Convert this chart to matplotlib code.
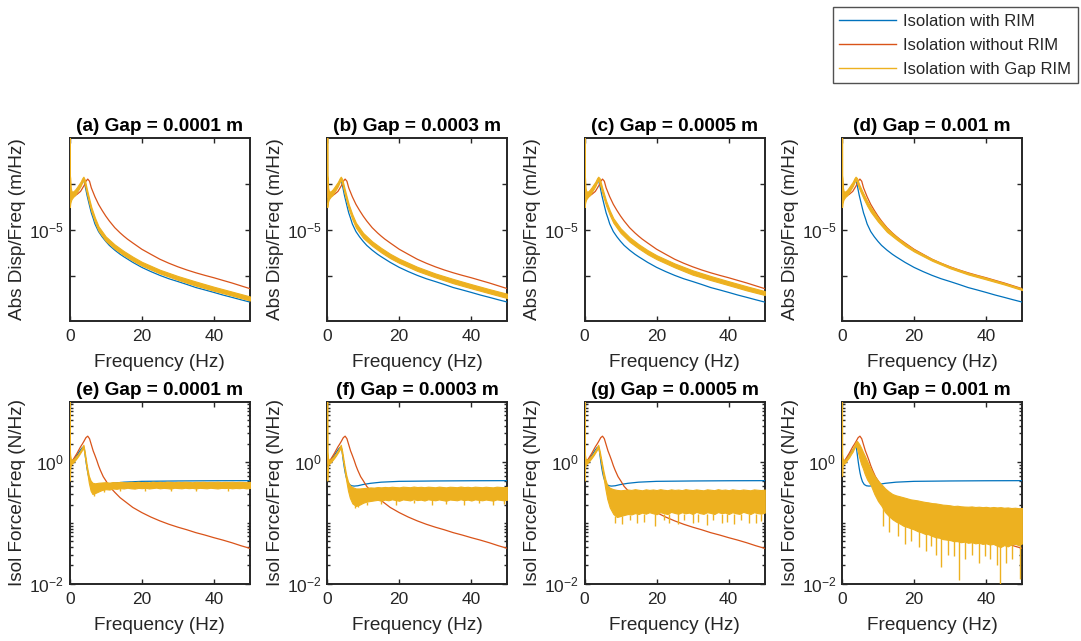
import matplotlib
matplotlib.use("Agg")
import matplotlib.pyplot as plt
from matplotlib.lines import Line2D
from matplotlib.ticker import FixedLocator, FixedFormatter, NullFormatter, NullLocator

plt.rcParams['font.family'] = ['Liberation Sans', 'DejaVu Sans']
plt.rcParams['mathtext.fontset'] = 'custom'
plt.rcParams['mathtext.rm'] = 'Liberation Sans'
plt.rcParams['mathtext.it'] = 'Liberation Sans:italic'
plt.rcParams['mathtext.bf'] = 'Liberation Sans:bold'

C_BLUE = '#0072BD'
C_RED = '#D95319'
C_YEL = '#EDB120'
TXT = '#262626'

legend_labels = ['Isolation with RIM', 'Isolation without RIM', 'Isolation with Gap RIM']
titles_top = ['(a) Gap = 0.0001 m', '(b) Gap = 0.0003 m', '(c) Gap = 0.0005 m', '(d) Gap = 0.001 m']
titles_bot = ['(e) Gap = 0.0001 m', '(f) Gap = 0.0003 m', '(g) Gap = 0.0005 m', '(h) Gap = 0.001 m']
xlabel = 'Frequency (Hz)'
ylabel_top = 'Abs Disp/Freq (m/Hz)'
ylabel_bot = 'Isol Force/Freq (N/Hz)'

# ---------------- displacement / freq (top row) ----------------
f_rim_disp = [0, 0.1, 1, 2, 3, 3.5, 3.8, 4.2, 4.8, 5.5, 6, 6.5, 7, 8, 9, 10, 11, 12.5, 14, 15, 17.5, 20,
              22.5, 25, 27.5, 30, 32.5, 35, 37.5, 40, 42.5, 45, 47.5, 50]
rim_disp = [1e-3, 1.65e-5, 1.7e-5, 1.8e-5, 1.95e-5, 2.08e-5, 2.15e-5, 2.0e-5, 1.7e-5, 1.45e-5, 1.3e-5,
            1.2e-5, 1.1e-5, 9.8e-6, 9.05e-6, 8.45e-6, 7.95e-6, 7.4e-6, 6.95e-6, 6.7e-6, 6.15e-6, 5.7e-6,
            5.35e-6, 5.05e-6, 4.8e-6, 4.6e-6, 4.4e-6, 4.2e-6, 4.05e-6, 3.9e-6, 3.75e-6, 3.62e-6, 3.49e-6,
            3.37e-6]

f_norim_disp = [0, 0.1, 1, 2, 3, 4, 4.5, 5, 5.5, 6, 7, 8, 9, 10, 11, 12.5, 14, 15, 16, 17.5, 20, 22.5, 25,
                27.5, 30, 32.5, 35, 37.5, 40, 42.5, 45, 47.5, 50]
norim_disp = [1e-3, 1.65e-5, 1.67e-5, 1.72e-5, 1.8e-5, 1.97e-5, 2.1e-5, 2.17e-5, 2.1e-5, 1.9e-5, 1.66e-5,
              1.48e-5, 1.35e-5, 1.24e-5, 1.15e-5, 1.04e-5, 9.6e-6, 9.15e-6, 8.75e-6, 8.25e-6, 7.5e-6,
              6.95e-6, 6.45e-6, 6.07e-6, 5.75e-6, 5.48e-6, 5.25e-6, 5.05e-6, 4.87e-6, 4.68e-6, 4.5e-6,
              4.31e-6, 4.13e-6]

f_gap_disp = [0, 0.05, 0.15, 0.3, 0.5, 1, 1.5, 2, 2.5, 3, 3.5, 3.8, 4.2, 4.8, 5.5, 6, 7, 8, 10, 12.5,
              15, 17.5, 20, 25, 30, 35, 40, 45, 50]
gap_disp_lo = [
    [1e-3, 1.42e-5, 1.5e-5, 1.55e-5, 1.6e-5, 1.66e-5, 1.7e-5, 1.78e-5, 1.86e-5, 1.95e-5, 2.07e-5, 2.15e-5,
     2.0e-5, 1.72e-5, 1.47e-5, 1.33e-5, 1.13e-5, 9.9e-6, 8.5e-6, 7.55e-6, 6.85e-6, 6.3e-6, 5.85e-6,
     5.2e-6, 4.72e-6, 4.32e-6, 4.0e-6, 3.72e-6, 3.45e-6],
    [1e-3, 1.42e-5, 1.5e-5, 1.55e-5, 1.6e-5, 1.66e-5, 1.7e-5, 1.78e-5, 1.86e-5, 1.95e-5, 2.07e-5, 2.15e-5,
     2.02e-5, 1.76e-5, 1.52e-5, 1.38e-5, 1.18e-5, 1.04e-5, 8.9e-6, 7.9e-6, 7.15e-6, 6.55e-6, 6.1e-6,
     5.4e-6, 4.9e-6, 4.48e-6, 4.15e-6, 3.85e-6, 3.58e-6],
    [1e-3, 1.42e-5, 1.5e-5, 1.55e-5, 1.6e-5, 1.66e-5, 1.7e-5, 1.78e-5, 1.86e-5, 1.95e-5, 2.07e-5, 2.15e-5,
     2.04e-5, 1.8e-5, 1.58e-5, 1.45e-5, 1.26e-5, 1.12e-5, 9.6e-6, 8.4e-6, 7.6e-6, 6.95e-6, 6.45e-6,
     5.7e-6, 5.1e-6, 4.7e-6, 4.35e-6, 4.02e-6, 3.75e-6],
    [1e-3, 1.42e-5, 1.5e-5, 1.55e-5, 1.6e-5, 1.66e-5, 1.7e-5, 1.78e-5, 1.86e-5, 1.95e-5, 2.07e-5, 2.15e-5,
     2.06e-5, 1.88e-5, 1.72e-5, 1.62e-5, 1.45e-5, 1.32e-5, 1.14e-5, 9.75e-6, 8.75e-6, 7.9e-6, 7.25e-6,
     6.3e-6, 5.62e-6, 5.12e-6, 4.75e-6, 4.4e-6, 4.04e-6],
]
gap_disp_hi = [
    [1e-3, 2.3e-5, 2.2e-5, 1.9e-5, 1.8e-5, 1.8e-5, 1.85e-5, 1.92e-5, 2.0e-5, 2.08e-5, 2.2e-5, 2.25e-5,
     2.15e-5, 1.85e-5, 1.58e-5, 1.42e-5, 1.21e-5, 1.06e-5, 9.1e-6, 8.05e-6, 7.3e-6, 6.7e-6, 6.2e-6,
     5.5e-6, 5.0e-6, 4.6e-6, 4.25e-6, 3.95e-6, 3.67e-6],
    [1e-3, 2.3e-5, 2.2e-5, 1.9e-5, 1.8e-5, 1.8e-5, 1.85e-5, 1.92e-5, 2.0e-5, 2.08e-5, 2.2e-5, 2.25e-5,
     2.17e-5, 1.9e-5, 1.64e-5, 1.48e-5, 1.27e-5, 1.12e-5, 9.6e-6, 8.45e-6, 7.65e-6, 7.0e-6, 6.5e-6,
     5.75e-6, 5.2e-6, 4.78e-6, 4.42e-6, 4.1e-6, 3.82e-6],
    [1e-3, 2.3e-5, 2.2e-5, 1.9e-5, 1.8e-5, 1.8e-5, 1.85e-5, 1.92e-5, 2.0e-5, 2.08e-5, 2.2e-5, 2.25e-5,
     2.2e-5, 1.95e-5, 1.71e-5, 1.56e-5, 1.35e-5, 1.2e-5, 1.03e-5, 9.0e-6, 8.1e-6, 7.4e-6, 6.85e-6,
     6.05e-6, 5.45e-6, 5.0e-6, 4.62e-6, 4.28e-6, 3.98e-6],
    [1e-3, 2.3e-5, 2.2e-5, 1.9e-5, 1.8e-5, 1.8e-5, 1.85e-5, 1.92e-5, 2.0e-5, 2.08e-5, 2.2e-5, 2.25e-5,
     2.2e-5, 2.0e-5, 1.84e-5, 1.74e-5, 1.56e-5, 1.42e-5, 1.21e-5, 1.03e-5, 9.1e-6, 8.2e-6, 7.47e-6,
     6.47e-6, 5.76e-6, 5.25e-6, 4.87e-6, 4.5e-6, 4.13e-6],
]

# ---------------- isolation force / freq (bottom row) ----------------
f_rim_force = [0, 0.1, 1, 2, 3, 3.5, 3.9, 4.1, 4.3, 4.55, 4.8, 5.05, 5.3, 5.7, 6.2, 6.8, 7.5, 8.5, 10, 12,
               15, 20, 30, 40, 50]
rim_force = [100, 0.97, 1.08, 1.3, 1.6, 1.75, 1.8, 1.6, 1.3, 1.0, 0.8, 0.66, 0.57, 0.48, 0.43, 0.41, 0.405,
             0.41, 0.43, 0.45, 0.47, 0.485, 0.492, 0.496, 0.498]

f_norim_force = [0, 0.1, 1, 2, 3, 3.5, 4, 4.5, 5, 5.5, 6, 6.5, 7, 7.5, 8, 8.5, 9.3, 10, 11, 12.5, 14, 17.5,
                 20, 22.5, 25, 27.5, 30, 32.5, 35, 37.5, 40, 42.5, 45, 47.5, 50]
norim_force = [100, 0.97, 1.12, 1.4, 1.8, 2.0, 2.25, 2.55, 2.7, 2.45, 1.95, 1.55, 1.3, 1.08, 0.88, 0.74,
               0.58, 0.5, 0.4, 0.32, 0.26, 0.18, 0.148, 0.125, 0.108, 0.095, 0.085, 0.077, 0.069, 0.063,
               0.057, 0.052, 0.047, 0.042, 0.038]

f_gap_force = [0, 0.05, 0.15, 0.3, 0.6, 1, 1.5, 2, 2.5, 3, 3.5, 3.8, 4.2, 4.8, 5.3, 5.8, 6.3, 7,
               8, 9, 10, 11, 12, 13, 14, 15, 16, 17, 18, 19, 20, 21, 22, 23, 24, 25, 26, 27, 28, 29, 30,
               31, 32, 33, 34, 35, 36, 37, 38, 39, 40, 41, 42, 43, 44, 45, 46, 47, 48, 49, 50]
gap_force_lo = [
    [100, 0.5, 0.8, 0.9, 0.95, 1.0, 1.08, 1.18, 1.3, 1.45, 1.62, 1.75, 1.25, 0.72, 0.46, 0.34, 0.30, 0.31,
     0.33, 0.35, 0.36, 0.355, 0.37, 0.365, 0.375, 0.37, 0.38, 0.372, 0.368, 0.378, 0.374, 0.38, 0.37,
     0.376, 0.382, 0.372, 0.378, 0.375, 0.368, 0.38, 0.376, 0.372, 0.38, 0.374, 0.378, 0.37, 0.379,
     0.376, 0.372, 0.38, 0.375, 0.37, 0.378, 0.376, 0.38, 0.372, 0.377, 0.374, 0.38, 0.371, 0.376],
    [100, 0.5, 0.8, 0.9, 0.95, 1.0, 1.08, 1.18, 1.3, 1.45, 1.62, 1.75, 1.3, 0.78, 0.5, 0.34, 0.26, 0.21,
     0.19, 0.2, 0.215, 0.225, 0.23, 0.235, 0.24, 0.232, 0.242, 0.236, 0.245, 0.238, 0.232, 0.244, 0.24,
     0.235, 0.246, 0.238, 0.242, 0.234, 0.245, 0.24, 0.236, 0.244, 0.238, 0.232, 0.243, 0.24, 0.236,
     0.245, 0.238, 0.242, 0.234, 0.244, 0.24, 0.236, 0.243, 0.238, 0.233, 0.244, 0.24, 0.236, 0.242],
    [100, 0.5, 0.8, 0.9, 0.95, 1.0, 1.08, 1.18, 1.3, 1.45, 1.62, 1.75, 1.35, 0.85, 0.55, 0.36, 0.25, 0.18,
     0.14, 0.125, 0.13, 0.135, 0.14, 0.138, 0.145, 0.14, 0.148, 0.142, 0.15, 0.144, 0.139, 0.15, 0.145,
     0.14, 0.152, 0.146, 0.141, 0.15, 0.144, 0.148, 0.14, 0.152, 0.145, 0.141, 0.15, 0.146, 0.14, 0.151,
     0.145, 0.148, 0.14, 0.15, 0.144, 0.141, 0.152, 0.146, 0.14, 0.15, 0.145, 0.142, 0.148],
    [100, 0.6, 0.85, 0.92, 0.95, 1.0, 1.1, 1.2, 1.35, 1.5, 1.75, 1.9, 1.7, 1.2, 0.95, 0.8, 0.65, 0.52,
     0.42, 0.3, 0.23, 0.19, 0.15, 0.13, 0.115, 0.105, 0.098, 0.09, 0.086, 0.082, 0.078, 0.073, 0.07,
     0.066, 0.065, 0.061, 0.058, 0.057, 0.054, 0.053, 0.052, 0.05, 0.05, 0.048, 0.049, 0.047, 0.048,
     0.046, 0.047, 0.045, 0.046, 0.044, 0.045, 0.042, 0.04, 0.043, 0.041, 0.044, 0.045, 0.043, 0.046],
]
gap_force_hi = [
    [100, 1.5, 1.3, 1.15, 1.1, 1.12, 1.2, 1.3, 1.42, 1.58, 1.8, 1.95, 1.45, 0.85, 0.6, 0.5, 0.46, 0.45,
     0.46, 0.465, 0.47, 0.462, 0.472, 0.468, 0.475, 0.47, 0.466, 0.476, 0.472, 0.478, 0.47, 0.474, 0.468,
     0.478, 0.472, 0.476, 0.47, 0.479, 0.474, 0.47, 0.477, 0.472, 0.478, 0.474, 0.469, 0.477, 0.473,
     0.478, 0.471, 0.476, 0.474, 0.479, 0.47, 0.476, 0.473, 0.478, 0.472, 0.477, 0.474, 0.47, 0.476],
    [100, 1.5, 1.3, 1.15, 1.1, 1.12, 1.2, 1.3, 1.42, 1.58, 1.8, 1.95, 1.5, 0.9, 0.62, 0.48, 0.42, 0.39,
     0.37, 0.37, 0.375, 0.38, 0.385, 0.382, 0.39, 0.386, 0.392, 0.388, 0.395, 0.39, 0.386, 0.396, 0.392,
     0.388, 0.398, 0.39, 0.394, 0.388, 0.396, 0.392, 0.387, 0.397, 0.391, 0.386, 0.395, 0.392, 0.388,
     0.398, 0.39, 0.394, 0.387, 0.396, 0.392, 0.388, 0.395, 0.39, 0.386, 0.396, 0.392, 0.388, 0.394],
    [100, 1.5, 1.3, 1.15, 1.1, 1.12, 1.2, 1.3, 1.42, 1.58, 1.8, 1.95, 1.55, 1.0, 0.7, 0.52, 0.42, 0.38,
     0.36, 0.35, 0.345, 0.35, 0.355, 0.35, 0.36, 0.352, 0.345, 0.358, 0.35, 0.356, 0.348, 0.36, 0.352,
     0.346, 0.358, 0.35, 0.355, 0.347, 0.36, 0.352, 0.348, 0.357, 0.35, 0.345, 0.358, 0.352, 0.347,
     0.36, 0.35, 0.355, 0.346, 0.358, 0.351, 0.347, 0.356, 0.35, 0.345, 0.357, 0.352, 0.348, 0.355],
    [100, 1.4, 1.2, 1.1, 1.08, 1.12, 1.22, 1.35, 1.5, 1.7, 1.95, 2.15, 2.25, 2.0, 1.75, 1.5, 1.3, 1.05,
     0.78, 0.6, 0.5, 0.43, 0.37, 0.33, 0.3, 0.285, 0.275, 0.265, 0.255, 0.245, 0.24, 0.235, 0.228, 0.222,
     0.218, 0.212, 0.21, 0.205, 0.2, 0.198, 0.195, 0.19, 0.192, 0.188, 0.186, 0.185, 0.187, 0.183, 0.185,
     0.182, 0.184, 0.18, 0.183, 0.18, 0.182, 0.178, 0.18, 0.176, 0.178, 0.175, 0.176],
]

# downward spikes of the noisy gap-RIM force spectra (panels e-h)
spike_f_e = [6.8, 9.5, 14.0, 21.0, 28.0, 35.0, 44.0]
spike_top_e = [0.32, 0.36, 0.37, 0.37, 0.37, 0.37, 0.37]
spike_bot_e = [0.28, 0.32, 0.335, 0.34, 0.335, 0.34, 0.33]
spike_f_f = [7.6, 8.5, 11.0, 15.0, 19.0, 24.0, 29.0, 33.0, 38.0, 42.0, 46.0, 49.0]
spike_top_f = [0.2, 0.2, 0.225, 0.235, 0.235, 0.235, 0.235, 0.235, 0.235, 0.235, 0.235, 0.235]
spike_bot_f = [0.175, 0.18, 0.2, 0.205, 0.2, 0.21, 0.2, 0.205, 0.2, 0.21, 0.2, 0.205]
spike_f_g = [8.5, 10.5, 12.5, 14.5, 16.5, 19.5, 22.0, 23.5, 26.0, 27.5, 30.0, 31.5, 34.0, 35.5, 38.0,
             39.5, 41.5, 43.5, 45.5, 47.5, 49.0]
spike_top_g = [0.13, 0.13, 0.135, 0.14, 0.14, 0.14, 0.14, 0.14, 0.14, 0.14, 0.14, 0.14, 0.14, 0.14, 0.14,
               0.14, 0.14, 0.14, 0.14, 0.14, 0.14]
spike_bot_g = [0.1, 0.095, 0.11, 0.1, 0.105, 0.09, 0.11, 0.1, 0.095, 0.11, 0.1, 0.105, 0.092, 0.11, 0.1,
               0.105, 0.095, 0.11, 0.1, 0.098, 0.108]
spike_f_h = [11.5, 13.2, 15.6, 17.4, 19.1, 21.3, 23.2, 24.6, 26.1, 27.6, 29.3, 31.0, 32.4, 34.2, 36.1,
             38.0, 39.6, 41.2, 43.0, 43.8, 45.6, 47.3, 49.3]
spike_top_h = [0.2, 0.14, 0.11, 0.095, 0.085, 0.075, 0.068, 0.066, 0.062, 0.058, 0.055, 0.052, 0.05,
               0.049, 0.048, 0.047, 0.046, 0.045, 0.044, 0.044, 0.043, 0.044, 0.046]
spike_bot_h = [0.09, 0.07, 0.06, 0.045, 0.05, 0.04, 0.035, 0.042, 0.03, 0.019, 0.03, 0.028, 0.0114,
               0.025, 0.03, 0.022, 0.028, 0.025, 0.02, 0.0095, 0.022, 0.025, 0.012]

# ---------------- layout ----------------
FW, FH = 1081, 641
fig = plt.figure(figsize=(FW / 100, FH / 100), dpi=100)
lefts = [69.7, 327.1, 584.5, 841.9]
AW = 180.3
rows = [(137.7, 320.5), (401.7, 583.5)]


def style_axes(ax):
    for s in ax.spines.values():
        s.set_linewidth(1.4)
        s.set_color(TXT)
        s.set_zorder(2)
    ax.tick_params(which='both', direction='in', top=True, right=True, colors=TXT,
                   labelsize=12.5, width=1.0)
    ax.tick_params(which='major', length=3.5)
    ax.tick_params(which='minor', length=2.0)
    ax.tick_params(axis='x', pad=6)
    ax.tick_params(axis='y', pad=4)
    ax.set_xlim(0, 50)
    ax.xaxis.set_major_locator(FixedLocator([0, 20, 40]))
    ax.xaxis.set_minor_locator(NullLocator())
    ax.set_xlabel(xlabel, fontsize=13.7, color=TXT)
    ax.xaxis.set_label_coords(0.5, -0.23)
    ax.xaxis.label.set_va('center')


for i in range(4):
    t, b = rows[0]
    ax = fig.add_axes([lefts[i] / FW, 1 - b / FH, AW / FW, (b - t) / FH])
    ax.set_yscale('log')
    ax.plot(f_rim_disp, rim_disp, color=C_BLUE, lw=0.9, zorder=3)
    ax.plot(f_norim_disp, norim_disp, color=C_RED, lw=0.9, zorder=3)
    ax.fill_between(f_gap_disp, gap_disp_lo[i], gap_disp_hi[i], color=C_YEL, lw=0.8, zorder=4)
    ax.set_ylim(2.55e-6, 4.06e-5)
    ax.yaxis.set_major_locator(FixedLocator([5e-6, 1e-5, 2e-5]))
    ax.yaxis.set_major_formatter(FixedFormatter(['', r'$\mathregular{10^{-5}}$', '']))
    ax.yaxis.set_minor_locator(NullLocator())
    ax.yaxis.set_minor_formatter(NullFormatter())
    style_axes(ax)
    ax.set_title(titles_top[i], fontsize=13.7, fontweight='bold', pad=5)
    ax.set_ylabel(ylabel_top, fontsize=13.7, color=TXT)
    ax.yaxis.set_label_coords(-0.287, 0.5)
    ax.yaxis.label.set_va('center')

spikes = [(spike_f_e, spike_bot_e, spike_top_e), (spike_f_f, spike_bot_f, spike_top_f),
          (spike_f_g, spike_bot_g, spike_top_g), (spike_f_h, spike_bot_h, spike_top_h)]
for i in range(4):
    t, b = rows[1]
    ax = fig.add_axes([lefts[i] / FW, 1 - b / FH, AW / FW, (b - t) / FH])
    ax.set_yscale('log')
    ax.plot(f_rim_force, rim_force, color=C_BLUE, lw=0.9, zorder=3)
    ax.plot(f_norim_force, norim_force, color=C_RED, lw=0.9, zorder=3)
    ax.fill_between(f_gap_force, gap_force_lo[i], gap_force_hi[i], color=C_YEL, lw=0.8, zorder=4)
    sf, sb, st = spikes[i]
    ax.vlines(sf, sb, st, color=C_YEL, lw=1.0, zorder=4)
    ax.set_ylim(1e-2, 1e1)
    ax.yaxis.set_major_locator(FixedLocator([1e-2, 1e0]))
    ax.yaxis.set_major_formatter(FixedFormatter([r'$\mathregular{10^{-2}}$', r'$\mathregular{10^{0}}$']))
    minors = [k * 10.0 ** e for e in (-2, -1, 0) for k in range(2, 10)] + [0.1, 10.0]
    ax.yaxis.set_minor_locator(FixedLocator(minors))
    ax.yaxis.set_minor_formatter(NullFormatter())
    style_axes(ax)
    ax.set_title(titles_bot[i], fontsize=13.7, fontweight='bold', pad=5)
    ax.set_ylabel(ylabel_bot, fontsize=13.7, color=TXT)
    ax.yaxis.set_label_coords(-0.287, 0.5)
    ax.yaxis.label.set_va('center')

handles = [Line2D([], [], color=C_BLUE, lw=1.0),
           Line2D([], [], color=C_RED, lw=1.0),
           Line2D([], [], color=C_YEL, lw=1.0)]
leg = fig.legend(handles, legend_labels, loc='upper right', bbox_to_anchor=(1078 / FW, 1 - 7 / FH),
                 fontsize=12, frameon=True, fancybox=False, handlelength=3.4, handletextpad=0.45,
                 labelspacing=0.54, borderpad=0.4, borderaxespad=0.0)
leg.get_frame().set_edgecolor(TXT)
leg.get_frame().set_linewidth(1.0)
for txt in leg.get_texts():
    txt.set_color(TXT)

fig.savefig('out.png', dpi=100)
